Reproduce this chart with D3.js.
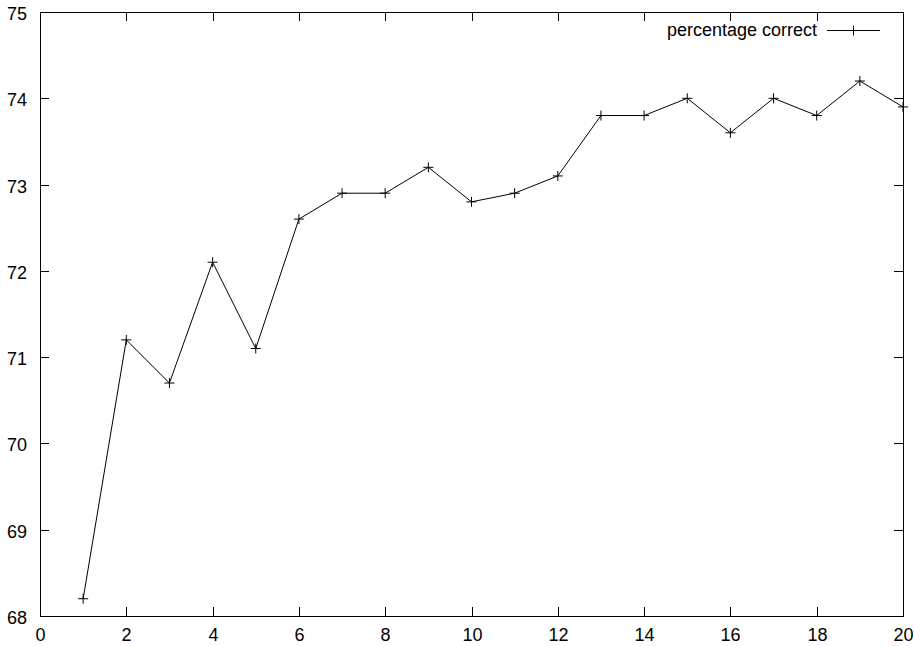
<!DOCTYPE html>
<html>
<head>
<meta charset="utf-8">
<script src="https://cdn.jsdelivr.net/npm/d3@7"></script>
<style>
  body { margin: 0; background: #fff; }
  text { font-family: "Liberation Sans", Arial, sans-serif; font-size: 18px; fill: #000; }
</style>
</head>
<body>
<div id="chart"></div>
<script>
// datos
const iterations = [1, 2, 3, 4, 5, 6, 7, 8, 9, 10, 11, 12, 13, 14, 15, 16, 17, 18, 19, 20];
const percentCorrect = [68.2, 71.2, 70.7, 72.1, 71.1, 72.6, 72.9, 72.9, 73.2, 72.8,
                        72.9, 73.1, 73.8, 73.8, 74.0, 73.6, 74.0, 73.8, 74.2, 73.9];
const xTicks = [0, 2, 4, 6, 8, 10, 12, 14, 16, 18, 20];
const yTicks = [68, 69, 70, 71, 72, 73, 74, 75];
const seriesName = "percentage correct";

const width = 914, height = 646;
const margin = { top: 12, right: 11, bottom: 30, left: 40 };

const svg = d3.select("#chart").append("svg")
    .attr("width", width)
    .attr("height", height);

const x = d3.scaleLinear().domain([0, 20]).range([margin.left, width - margin.right]);
const y = d3.scaleLinear().domain([68, 75]).range([height - margin.bottom, margin.top]);

const tickLen = 9;

// marco
svg.append("rect")
    .attr("x", x(0) + 0.5)
    .attr("y", y(75) + 0.5)
    .attr("width", x(20) - x(0))
    .attr("height", y(68) - y(75))
    .attr("fill", "none")
    .attr("stroke", "#000")
    .attr("stroke-width", 1);

// ticks eje y (izquierda y derecha, hacia dentro)
const yt = svg.append("g");
yTicks.forEach(v => {
    const py = Math.round(y(v)) + 0.5;
    yt.append("line").attr("x1", x(0)).attr("x2", x(0) + tickLen).attr("y1", py).attr("y2", py).attr("stroke", "#000");
    yt.append("line").attr("x1", x(20)).attr("x2", x(20) - tickLen).attr("y1", py).attr("y2", py).attr("stroke", "#000");
    yt.append("text")
        .attr("x", x(0) - 13)
        .attr("y", py + 7)
        .attr("text-anchor", "end")
        .text(v);
});

// ticks eje x (abajo y arriba)
const xt = svg.append("g");
xTicks.forEach(v => {
    const px = Math.round(x(v)) + 0.5;
    xt.append("line").attr("x1", px).attr("x2", px).attr("y1", y(68)).attr("y2", y(68) - tickLen).attr("stroke", "#000");
    xt.append("line").attr("x1", px).attr("x2", px).attr("y1", y(75)).attr("y2", y(75) + tickLen).attr("stroke", "#000");
    xt.append("text")
        .attr("x", px)
        .attr("y", y(68) + 25)
        .attr("text-anchor", "middle")
        .text(v);
});

// linea de datos
const data = iterations.map((d, i) => ({ it: d, pc: percentCorrect[i] }));

const line = d3.line()
    .x(d => x(d.it))
    .y(d => y(d.pc));

svg.append("path")
    .datum(data)
    .attr("d", line)
    .attr("fill", "none")
    .attr("stroke", "#000")
    .attr("stroke-width", 1);

// marcadores "+"
const marker = 5;
svg.selectAll(".pt")
    .data(data)
    .enter()
    .append("path")
    .attr("class", "pt")
    .attr("d", d => `M${x(d.it) - marker},${y(d.pc)}h${marker * 2}M${x(d.it)},${y(d.pc) - marker}v${marker * 2}`)
    .attr("stroke", "#000")
    .attr("stroke-width", 1);

// leyenda
const legY = 30;
svg.append("text")
    .attr("x", 817)
    .attr("y", legY + 6)
    .attr("text-anchor", "end")
    .text(seriesName);
svg.append("line")
    .attr("x1", 827).attr("x2", 880)
    .attr("y1", legY + 0.5).attr("y2", legY + 0.5)
    .attr("stroke", "#000");
svg.append("path")
    .attr("d", `M${853.5 - marker},${legY + 0.5}h${marker * 2}M853.5,${legY + 0.5 - marker}v${marker * 2}`)
    .attr("stroke", "#000");
</script>
</body>
</html>
